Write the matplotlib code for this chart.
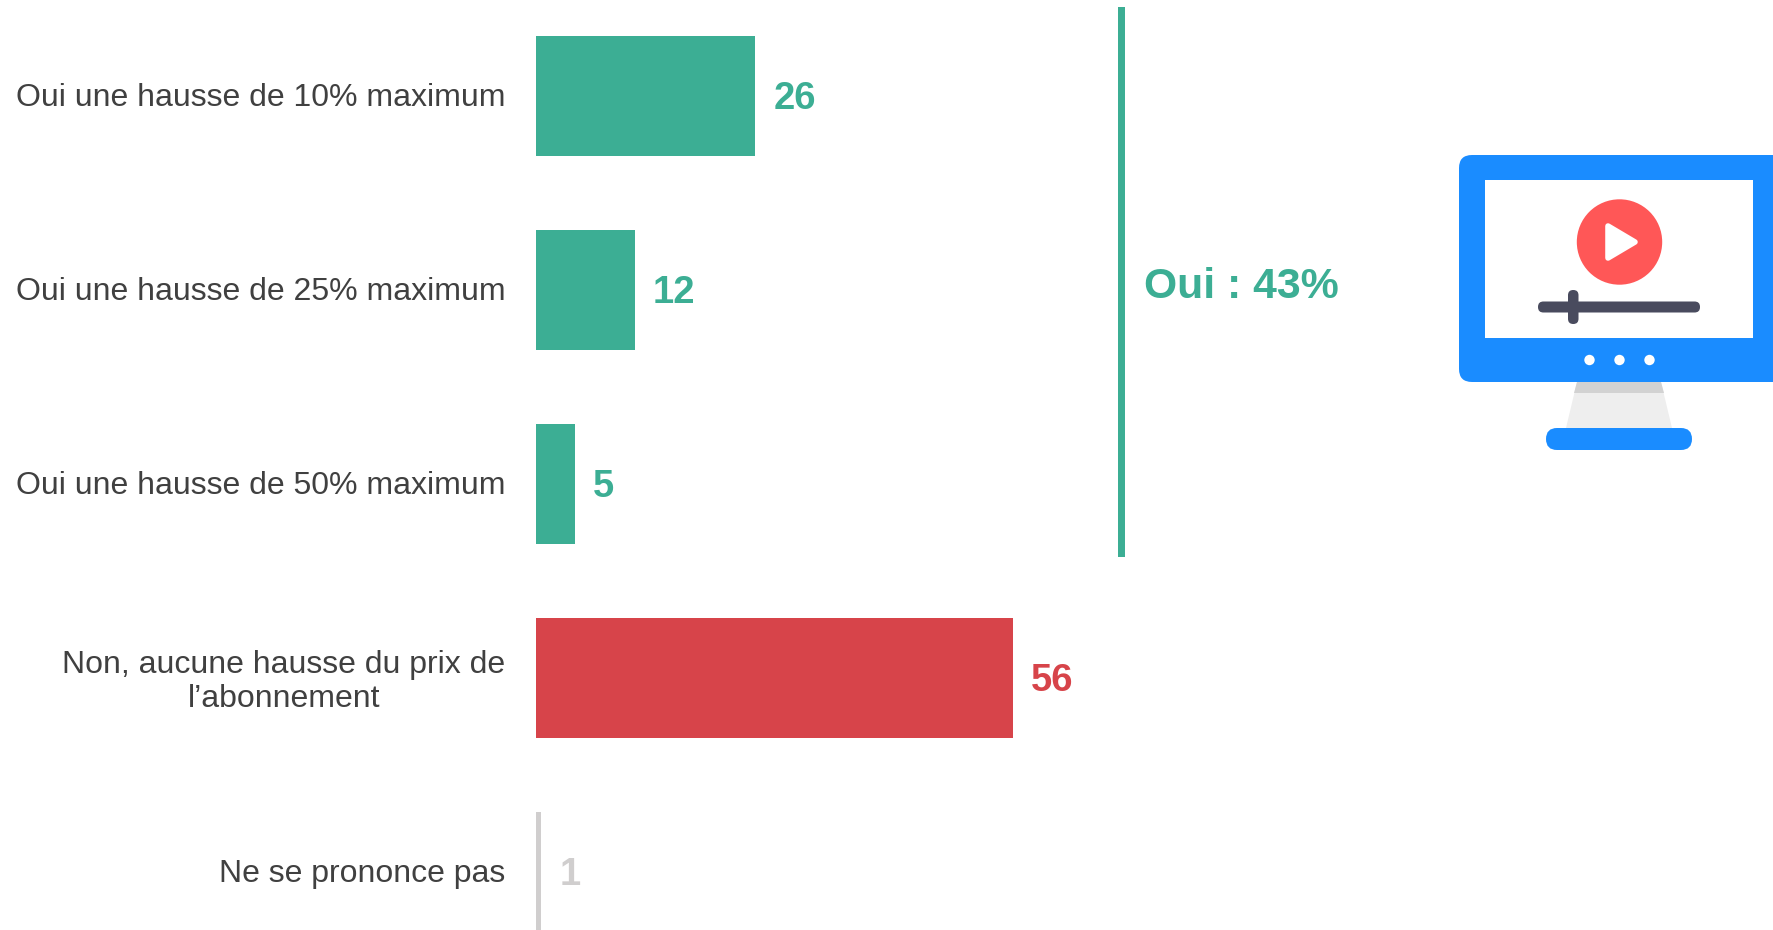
"""Hausse du prix de l'abonnement: horizontal bars with a monitor icon."""

import matplotlib

matplotlib.use("Agg")
import matplotlib.pyplot as plt
from matplotlib.patches import Circle, FancyBboxPatch, Polygon, Rectangle
from matplotlib.transforms import ScaledTranslation

categories = [
    "Oui une hausse de 10% maximum",
    "Oui une hausse de 25% maximum",
    "Oui une hausse de 50% maximum",
    "Non, aucune hausse du prix de\nl\u2019abonnement",
    "Ne se prononce pas",
]
values = [25.7, 11.6, 4.6, 55.9, 0.6]
colors = ["#3CAE94", "#3CAE94", "#3CAE94", "#D7444A", "#D0CECE"]
summary_label = "Oui : 43%"

GREEN = "#3CAE94"
BLUE = "#1A8CFF"
W, H = 1774, 930


def rounded(ax, x0, y0, x1, y1, r, color, zorder=2):
    ax.add_patch(
        FancyBboxPatch(
            (x0 + r, y0 + r),
            x1 - x0 - 2 * r,
            y1 - y0 - 2 * r,
            boxstyle=f"round,pad={r},rounding_size={r}",
            fc=color,
            ec="none",
            zorder=zorder,
        )
    )


def draw_icon(ax):
    # stand first, the monitor sits on top of it
    ax.add_patch(Polygon([(1566, 428), (1672, 428), (1661, 382), (1577, 382)], fc="#EEEEEE", ec="none"))
    ax.add_patch(Polygon([(1574, 393), (1664, 393), (1661, 382), (1577, 382)], fc="#D2D2D2", ec="none"))
    rounded(ax, 1546, 428, 1692, 450, 11, BLUE)
    rounded(ax, 1459, 155, 1800, 382, 13, BLUE)
    ax.add_patch(Rectangle((1485, 180), 268, 158, fc="white", ec="none", zorder=3))
    ax.add_patch(Circle((1619.5, 242), 42.7, fc="#FF5757", ec="none", zorder=4))
    ax.add_patch(
        Polygon(
            [(1608, 226), (1635, 242), (1608, 258)],
            fc="white",
            ec="white",
            lw=4,
            joinstyle="round",
            zorder=5,
        )
    )
    rounded(ax, 1538, 301.5, 1700, 312.5, 5.4, "#494B5E", zorder=4)
    rounded(ax, 1568, 290, 1578.5, 324, 5.2, "#494B5E", zorder=4)
    for cx in (1589.5, 1619.5, 1649.5):
        ax.add_patch(Circle((cx, 360), 5.2, fc="white", ec="none", zorder=4))


def main() -> None:
    plt.rcParams["font.family"] = ["Liberation Sans", "DejaVu Sans"]

    fig = plt.figure(figsize=(W / 100, H / 100), dpi=100)

    # bars: x = 0 sits at pixel 536, 8.53 px per percentage point
    ax = fig.add_axes([536 / W, 0, 1 - 536 / W, 1])
    positions = list(range(len(values)))
    ax.barh(positions, values, height=0.615, color=colors)
    ax.set_xlim(0, (W - 536) / 8.53)
    ax.set_ylim((H - 96) / 194, -96 / 194)
    ax.set_xticks([])
    ax.set_yticks(positions)
    ax.set_yticklabels(categories, fontsize=23.05, color="#404040", ma="center", linespacing=1.2)
    ax.tick_params(axis="y", length=0, pad=22)
    nudge = ScaledTranslation(0, 1.2 / 72, fig.dpi_scale_trans)
    for label in ax.get_yticklabels():
        label.set_transform(label.get_transform() + nudge)
    for spine in ax.spines.values():
        spine.set_visible(False)

    for pos, value, color in zip(positions, values, colors):
        ax.annotate(
            f"{value:.0f}",
            (value, pos),
            xytext=(13, -2.5),
            textcoords="offset points",
            va="center",
            ha="left",
            fontsize=27.5,
            fontweight="bold",
            color=color,
        )

    # overlay in pixel coordinates for the bracket and the icon
    over = fig.add_axes([0, 0, 1, 1])
    over.set_xlim(0, W)
    over.set_ylim(H, 0)
    over.axis("off")
    over.add_patch(Rectangle((1118, 7), 7.5, 550, fc=GREEN, ec="none"))
    over.text(1144, 287, summary_label, fontsize=30.8, fontweight="bold", color=GREEN, va="center", ha="left")
    draw_icon(over)

    fig.savefig("out.png", dpi=100, facecolor="white")
    plt.close(fig)


if __name__ == "__main__":
    main()
